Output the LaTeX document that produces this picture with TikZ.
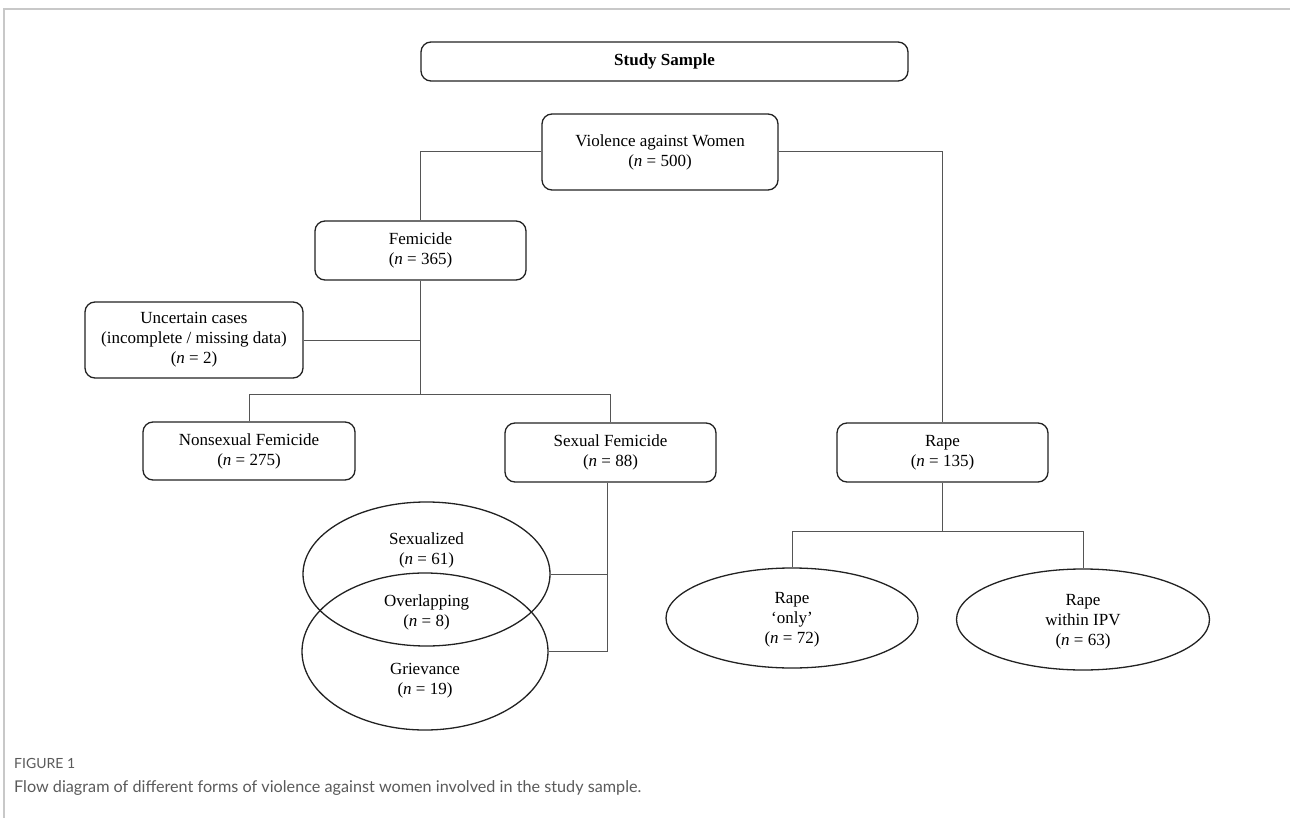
\documentclass[tikz,border=0pt]{standalone}
\usepackage{fontspec}
\setmainfont{Liberation Serif}
\newfontfamily\capfont{Lato}
\usetikzlibrary{shapes.geometric}
\definecolor{framegray}{HTML}{C8C8C8}
\definecolor{linegray}{HTML}{555555}
\definecolor{boxdark}{HTML}{222222}
\definecolor{capgray}{HTML}{5A5A5A}
\tikzset{
  rbox/.style={draw=boxdark, line width=1.3pt, rounded corners=10pt, align=center,
    inner sep=0pt, font=\fontsize{17}{20}\selectfont},
  ell/.style={draw=boxdark, line width=1.3pt, ellipse, inner sep=0pt},
  lbl/.style={align=center, inner sep=0pt, font=\fontsize{17}{20}\selectfont},
  conn/.style={draw=linegray, line width=1pt},
}
\begin{document}
\begin{tikzpicture}[x=1pt,y=-1pt]
\useasboundingbox (0,0) rectangle (1290,818);
% frame
\draw[framegray, line width=1.2pt] (4,818) -- (4,9) -- (1290,9);
% nodes
\node[rbox, minimum width=487, minimum height=39, font=\fontsize{17}{20}\selectfont\bfseries] (study) at (664.5,61.5) {Study Sample};
\node[rbox, minimum width=236, minimum height=76] (vaw) at (660,152) {Violence against Women\\(\textit{n} = 500)};
\node[rbox, minimum width=211, minimum height=59] (fem) at (420.5,250.5) {Femicide\\(\textit{n} = 365)};
\node[rbox, minimum width=218, minimum height=76] (unc) at (194,340) {Uncertain cases\\(incomplete / missing data)\\(\textit{n} = 2)};
\node[rbox, minimum width=212, minimum height=58] (nonsex) at (249,451) {Nonsexual Femicide\\(\textit{n} = 275)};
\node[rbox, minimum width=211, minimum height=59] (sexfem) at (610.5,452.5) {Sexual Femicide\\(\textit{n} = 88)};
\node[rbox, minimum width=211, minimum height=59] (rape) at (942.5,452.5) {Rape\\(\textit{n} = 135)};
% ellipses
\node[ell, minimum width=247, minimum height=144] (sexz) at (426.5,574) {};
\node[ell, minimum width=246, minimum height=157] (griev) at (425,651.5) {};
\node[lbl] (sexzt) at (426.5,550) {Sexualized\\(\textit{n} = 61)};
\node[lbl] (overt) at (426.5,612) {Overlapping\\(\textit{n} = 8)};
\node[lbl] (grievt) at (425,681) {Grievance\\(\textit{n} = 19)};
\node[ell, minimum width=252, minimum height=100] (ronly) at (792,618) {};
\node[lbl] (ronlyt) at (792,620) {Rape\\`only'\\(\textit{n} = 72)};
\node[ell, minimum width=253, minimum height=101] (ipv) at (1083,619.5) {};
\node[lbl] (ipvt) at (1083,622) {Rape\\within IPV\\(\textit{n} = 63)};
% junction coordinates
\coordinate (fj) at (420.5,394);
\coordinate (fl) at (249,394);
\coordinate (fr) at (610.5,394);
\coordinate (sj) at (607,651.5);
\coordinate (rj) at (942.5,531);
\coordinate (rl) at (792,531);
\coordinate (rr) at (1083,531);
% connectors
\draw[conn] (vaw.west) -| (fem.north);
\draw[conn] (vaw.east) -| (rape.north);
\draw[conn] (fem.south) -- (fj);
\draw[conn] (unc.east) -- (unc.east -| fj);
\draw[conn] (fl) -- (fr);
\draw[conn] (fl) -- (nonsex.north);
\draw[conn] (fr) -- (sexfem.north);
\draw[conn] (sexfem.south -| sj) -- (sj);
\draw[conn] (sexz.east) -- (sexz.east -| sj);
\draw[conn] (griev.east) -- (sj);
\draw[conn] (rape.south) -- (rj);
\draw[conn] (rl) -- (rr);
\draw[conn] (rl) -- (ronly.north);
\draw[conn] (rr) -- (ipv.north);
% caption
\node[anchor=west, inner sep=0pt, text=capgray, font=\capfont\fontsize{14}{16}\selectfont] (figlbl) at (14,763) {FIGURE 1};
\node[anchor=west, inner sep=0pt, text=capgray, font=\capfont\fontsize{16.2}{19}\selectfont] (cap) at (14,788) {Flow diagram of different forms of violence against women involved in the study sample.};
\end{tikzpicture}
\end{document}
